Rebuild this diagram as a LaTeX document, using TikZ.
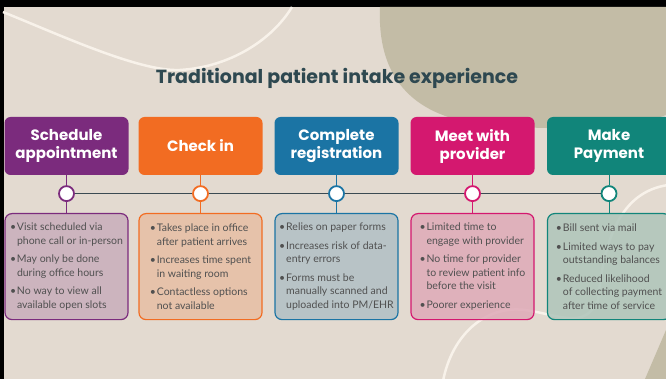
\documentclass[tikz,border=0pt]{standalone}
\usepackage{fontspec}
\setmainfont{Lato}
\newfontfamily\headfont{Poppins}
\usetikzlibrary{positioning}
\definecolor{pagebg}{HTML}{E3DAD0}
\definecolor{blobolive}{HTML}{C3BCA6}
\definecolor{swirl}{HTML}{F8F2EA}
\definecolor{titleslate}{HTML}{2E4850}
\definecolor{lineslate}{HTML}{3B4A52}
\definecolor{bodygray}{HTML}{505050}
\definecolor{schedpurple}{HTML}{7B2B7D}
\definecolor{checkorange}{HTML}{F26C22}
\definecolor{regblue}{HTML}{1B74A4}
\definecolor{meetpink}{HTML}{D4186F}
\definecolor{payteal}{HTML}{11857A}
\newcommand{\bitem}{\makebox[7pt][l]{\textbullet}}
\newcommand{\bcont}{\hspace*{7pt}}

\begin{document}
\begin{tikzpicture}[x=1pt, y=-1pt,
    headbox/.style={fill=#1, rounded corners=6pt, minimum width=124pt, minimum height=58pt,
      inner sep=0pt, align=center, text=white, font=\headfont\bfseries\fontsize{15}{18}\selectfont},
    bodybox/.style={draw=#1, fill=#1!25!pagebg, fill opacity=.85, text opacity=1, line width=1.2pt,
      rounded corners=7pt, minimum width=123pt, minimum height=106pt, inner sep=0pt, align=left,
      text=bodygray, font=\fontsize{10.5}{13.6}\selectfont},
    dot/.style={circle, draw=#1, fill=white, line width=1.8pt, minimum size=15pt, inner sep=0pt},
    stem/.style={draw=#1, line width=.9pt}]
  \useasboundingbox (0,0) rectangle (666,379);
  \clip (0,0) rectangle (666,379);
  % backdrop
  \fill[black] (0,0) rectangle (666,379);
  \fill[pagebg] (4,7) rectangle (666,379);
  \fill[blobolive] (380,7) .. controls (377,75) and (410,115) .. (480,124)
    .. controls (560,132) and (630,128) .. (666,115) -- (666,7) -- cycle;
  \fill[blobolive] (645,379) -- (666,330) -- (666,379) -- cycle;
  \draw[swirl, line width=2.5pt] (3,12) .. controls (60,35) and (140,72) .. (180,70)
    .. controls (230,67) and (272,40) .. (292,7);
  \draw[swirl, line width=2.5pt] (443,381) .. controls (452,335) and (485,305) .. (525,310)
    .. controls (560,315) and (585,330) .. (598,300) .. controls (604,240) and (620,192) .. (668,185);

  \node[font=\headfont\bfseries\fontsize{19}{23}\selectfont, text=titleslate] (title) at (337,78)
    {Traditional patient intake experience};

  % step headers
  \node[headbox=schedpurple] (h1) at (66.5,146) {Schedule\\appointment};
  \node[headbox=checkorange] (h2) at (200.5,146) {Check in};
  \node[headbox=regblue] (h3) at (336.5,146) {Complete\\registration};
  \node[headbox=meetpink] (h4) at (472.5,146) {Meet with\\provider};
  \node[headbox=payteal] (h5) at (609,146) {Make\\Payment};

  % timeline dots
  \node[dot=schedpurple, below=10pt of h1] (d1) {};
  \node[dot=checkorange, below=10pt of h2] (d2) {};
  \node[dot=regblue, below=10pt of h3] (d3) {};
  \node[dot=meetpink, below=10pt of h4] (d4) {};
  \node[dot=payteal, below=10pt of h5] (d5) {};
  \draw[lineslate, line width=1.8pt] (d1) -- (d2) -- (d3) -- (d4) -- (d5);

  % detail boxes
  \node[bodybox=schedpurple, below=11pt of d1] (b1)
    {\bitem Visit scheduled via\\ \bcont phone call or in-person\\[5pt]
     \bitem May only be done\\ \bcont during office hours\\[5pt]
     \bitem No way to view all\\ \bcont available open slots};
  \node[bodybox=checkorange, below=11pt of d2] (b2)
    {\bitem Takes place in office\\ \bcont after patient arrives\\[5pt]
     \bitem Increases time spent\\ \bcont in waiting room\\[5pt]
     \bitem Contactless options\\ \bcont not available};
  \node[bodybox=regblue, below=11pt of d3] (b3)
    {\bitem Relies on paper forms\\[5pt]
     \bitem Increases risk of data-\\ \bcont entry errors\\[5pt]
     \bitem Forms must be\\ \bcont manually scanned and\\ \bcont uploaded into PM/EHR};
  \node[bodybox=meetpink, below=11pt of d4] (b4)
    {\bitem Limited time to\\ \bcont engage with provider\\[5pt]
     \bitem No time for provider\\ \bcont to review patient info\\ \bcont before the visit\\[5pt]
     \bitem Poorer experience};
  \node[bodybox=payteal, below=11pt of d5] (b5)
    {\bitem Bill sent via mail\\[5pt]
     \bitem Limited ways to pay\\ \bcont outstanding balances\\[5pt]
     \bitem Reduced likelihood\\ \bcont of collecting payment\\ \bcont after time of service};

  % stems
  \draw[stem=schedpurple] (h1) -- (d1) (d1) -- (b1);
  \draw[stem=checkorange] (h2) -- (d2) (d2) -- (b2);
  \draw[stem=regblue] (h3) -- (d3) (d3) -- (b3);
  \draw[stem=meetpink] (h4) -- (d4) (d4) -- (b4);
  \draw[stem=payteal] (h5) -- (d5) (d5) -- (b5);
\end{tikzpicture}
\end{document}
